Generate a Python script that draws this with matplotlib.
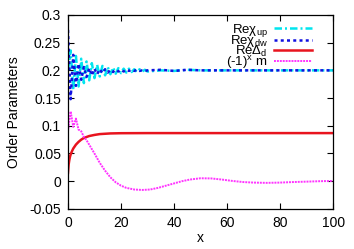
import matplotlib
matplotlib.use("Agg")
import matplotlib.pyplot as plt

plt.rcParams["font.family"] = ["Liberation Sans", "DejaVu Sans"]
plt.rcParams["mathtext.fontset"] = "custom"
plt.rcParams["mathtext.rm"] = "Liberation Sans"
plt.rcParams["mathtext.it"] = "Liberation Sans:italic"

# ── data ───────────────────────────────────────────────────────────────────
x_chi = list(range(0, 31)) + [35, 40, 45, 50, 60, 70, 80, 90, 100]
chi_up = [0.200, 0.236, 0.165, 0.226, 0.171, 0.221, 0.177, 0.216, 0.182, 0.213,
          0.186, 0.210, 0.189, 0.208, 0.191, 0.206, 0.193, 0.205, 0.194, 0.204,
          0.195, 0.203, 0.196, 0.203, 0.197, 0.202, 0.197, 0.202, 0.198, 0.201,
          0.198, 0.200, 0.199, 0.201, 0.200, 0.200, 0.200, 0.200, 0.200, 0.200]
chi_dw = [0.273, 0.148, 0.228, 0.172, 0.212, 0.183, 0.206, 0.188, 0.204, 0.191,
          0.203, 0.193, 0.202, 0.195, 0.202, 0.196, 0.201, 0.197, 0.201, 0.198,
          0.201, 0.198, 0.201, 0.199, 0.201, 0.199, 0.201, 0.199, 0.200, 0.199,
          0.200, 0.201, 0.199, 0.201, 0.200, 0.200, 0.200, 0.200, 0.200, 0.200]

x_d = [0, 0.25, 0.5, 0.75, 1, 1.5, 2, 3, 4, 5, 6, 8, 10, 12, 16, 20, 30, 100]
delta_d = [0.015, 0.030, 0.038, 0.044, 0.048, 0.054, 0.059, 0.066, 0.071, 0.075,
           0.078, 0.0815, 0.0835, 0.085, 0.0862, 0.0866, 0.0868, 0.0868]

x_m = [0, 1, 2, 3, 4, 5, 6, 7, 8, 9, 10, 12, 14, 16, 18, 20, 22, 25, 28, 31, 34,
       37, 40, 43, 46, 50, 54, 58, 62, 66, 70, 75, 80, 85, 90, 95, 100]
stag_m = [0.090, 0.126, 0.098, 0.113, 0.093, 0.090, 0.080, 0.074, 0.066, 0.058,
          0.050, 0.033, 0.019, 0.007, -0.002, -0.008, -0.012, -0.015, -0.0158,
          -0.015, -0.012, -0.008, -0.004, 0.000, 0.003, 0.0053, 0.005, 0.003,
          0.0005, -0.0015, -0.0025, -0.003, -0.0025, -0.0015, -0.0008, 0.000, 0.0005]

y_ticks = [-0.05, 0, 0.05, 0.1, 0.15, 0.2, 0.25, 0.3]
y_labels = ["-0.05", "0", "0.05", "0.1", "0.15", "0.2", "0.25", "0.3"]
x_ticks = [0, 20, 40, 60, 80, 100]

# ── plot ──────────────────────────────────────────────────────────────────
fig = plt.figure(figsize=(3.54, 2.49), dpi=100)
ax = fig.add_axes([0.192, 0.161, 0.749, 0.779])

ax.plot(x_chi, chi_up, color="#00e5ee", lw=1.8, ls=(0, (3, 1.2, 0.8, 1.2)),
        label="Reχ$_{\\mathrm{up}}$")
ax.plot(x_chi, chi_dw, color="#1010e0", lw=1.8, ls=(0, (1.2, 1.3)),
        label="Reχ$_{\\mathrm{dw}}$")
ax.plot(x_d, delta_d, color="#e8141e", lw=1.8,
        label="ReΔ$_{\\mathrm{d}}$")
ax.plot(x_m, stag_m, color="#ff33ff", lw=1.4, ls=(0, (1, 0.5)),
        label="(-1)$^{\\mathrm{x}}$ m")

ax.set_xlim(0, 100)
ax.set_ylim(-0.05, 0.3)
ax.set_xticks(x_ticks)
ax.set_xticklabels([str(t) for t in x_ticks])
ax.set_yticks(y_ticks)
ax.set_yticklabels(y_labels)
ax.tick_params(direction="in", top=True, right=True, length=4, width=0.8,
               labelsize=10, pad=5)
for sp in ax.spines.values():
    sp.set_linewidth(0.9)

ax.set_xlabel("x", fontsize=10, labelpad=1)
ax.set_ylabel("Order Parameters", fontsize=10, labelpad=6)

ax.legend(loc="upper right", bbox_to_anchor=(0.945, 1.0), frameon=False,
          markerfirst=False, handlelength=2.9, fontsize=9.5, labelspacing=-0.4,
          handletextpad=0.45, borderpad=0.0)

fig.savefig("out.png", dpi=100)
